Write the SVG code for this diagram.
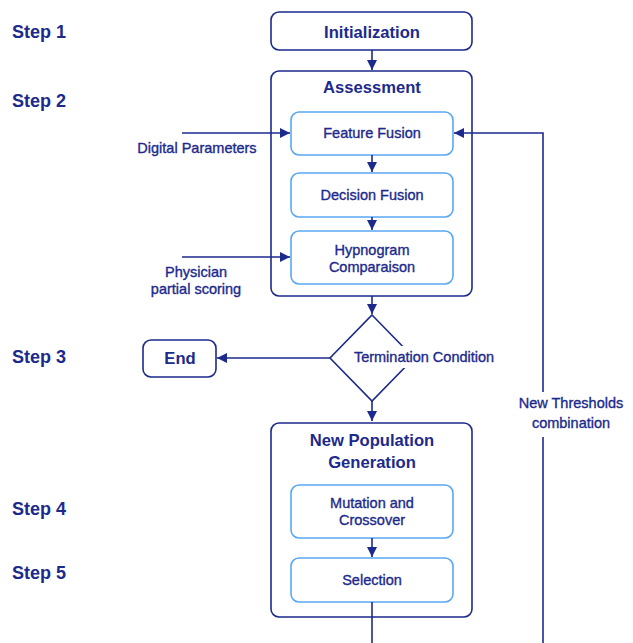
<svg xmlns="http://www.w3.org/2000/svg" width="633" height="643" viewBox="0 0 633 643">
<style>
.t{font-family:"Liberation Sans",Arial,sans-serif;fill:#1c2a8c;text-anchor:middle}
.big{font-size:16.6px;font-weight:bold}
.sm{font-size:14.5px;stroke:#1c2a8c;stroke-width:0.35}
.step{font-family:"Liberation Sans",Arial,sans-serif;fill:#1c2a8c;font-size:18px;font-weight:bold}
.outer{fill:#fff;stroke:#1c2a8c;stroke-width:1.6}
.inner{fill:#fff;stroke:#5aa8f2;stroke-width:1.6}
.c{fill:none;stroke:#1c2a8c;stroke-width:1.6}
</style>
<defs>
<marker id="ah" viewBox="0 0 10 10" refX="10" refY="5" markerWidth="10" markerHeight="10" markerUnits="userSpaceOnUse" orient="auto">
<path d="M0,0 L10,5 L0,10 z" fill="#1c2a8c"/>
</marker>
</defs>
<rect width="633" height="643" fill="#fff"/>
<g id="steps">
<text class="step" x="12" y="38">Step 1</text>
<text class="step" x="12" y="107">Step 2</text>
<text class="step" x="12" y="363">Step 3</text>
<text class="step" x="12" y="515">Step 4</text>
<text class="step" x="12" y="579">Step 5</text>
</g>
<g id="initialization">
<rect class="outer" x="271" y="12" width="201" height="38" rx="8"/>
<text class="t big" x="372" y="38">Initialization</text>
</g>
<g id="assessment">
<rect class="outer" x="271" y="71" width="201" height="225" rx="8"/>
<text class="t big" x="372" y="93">Assessment</text>
</g>
<g id="feature-fusion">
<rect class="inner" x="291" y="112" width="162" height="43" rx="8"/>
<text class="t sm" x="372" y="138">Feature Fusion</text>
</g>
<g id="decision-fusion">
<rect class="inner" x="291" y="173" width="162" height="44" rx="8"/>
<text class="t sm" x="372" y="200">Decision Fusion</text>
</g>
<g id="hypnogram">
<rect class="inner" x="291" y="231" width="162" height="53" rx="8"/>
<text class="t sm" x="372" y="255">Hypnogram</text>
<text class="t sm" x="372" y="272">Comparaison</text>
</g>
<g id="end">
<rect class="outer" x="143" y="340" width="73" height="37" rx="8"/>
<text class="t big" x="180" y="364">End</text>
</g>
<g id="new-population">
<rect class="outer" x="271" y="423" width="201" height="194" rx="8"/>
<text class="t big" x="372" y="446">New Population</text>
<text class="t big" x="372" y="468">Generation</text>
</g>
<g id="mutation">
<rect class="inner" x="291" y="485" width="162" height="53" rx="8"/>
<text class="t sm" x="372" y="508">Mutation and</text>
<text class="t sm" x="372" y="525">Crossover</text>
</g>
<g id="selection">
<rect class="inner" x="291" y="558" width="162" height="44" rx="8"/>
<text class="t sm" x="372" y="585">Selection</text>
</g>
<g id="termination">
<polygon class="c" points="372,315 414,358 372,401 330,358" fill="#fff"/>
<rect x="350" y="346" width="149" height="22" fill="#fff"/>
<text class="t sm" x="424" y="362">Termination Condition</text>
</g>
<g id="connectors">
<line class="c" x1="372" y1="50" x2="372" y2="70" marker-end="url(#ah)"/>
<line class="c" x1="372" y1="155" x2="372" y2="172" marker-end="url(#ah)"/>
<line class="c" x1="372" y1="217" x2="372" y2="230" marker-end="url(#ah)"/>
<line class="c" x1="182" y1="133" x2="290" y2="133" marker-end="url(#ah)"/>
<line class="c" x1="182" y1="257" x2="290" y2="257" marker-end="url(#ah)"/>
<line class="c" x1="372" y1="296" x2="372" y2="314" marker-end="url(#ah)"/>
<line class="c" x1="330" y1="358" x2="217" y2="358" marker-end="url(#ah)"/>
<line class="c" x1="372" y1="401" x2="372" y2="421" marker-end="url(#ah)"/>
<line class="c" x1="372" y1="538" x2="372" y2="557" marker-end="url(#ah)"/>
<line class="c" x1="372" y1="602" x2="372" y2="643"/>
<polyline class="c" points="543,643 543,437"/>
<polyline class="c" points="543,392 543,133 454,133" marker-end="url(#ah)"/>
<text class="t sm" x="571" y="408">New Thresholds</text>
<text class="t sm" x="571" y="428">combination</text>
<text class="t sm" x="197" y="153">Digital Parameters</text>
<text class="t sm" x="196" y="277">Physician</text>
<text class="t sm" x="196" y="294">partial scoring</text>
</g>
</svg>
